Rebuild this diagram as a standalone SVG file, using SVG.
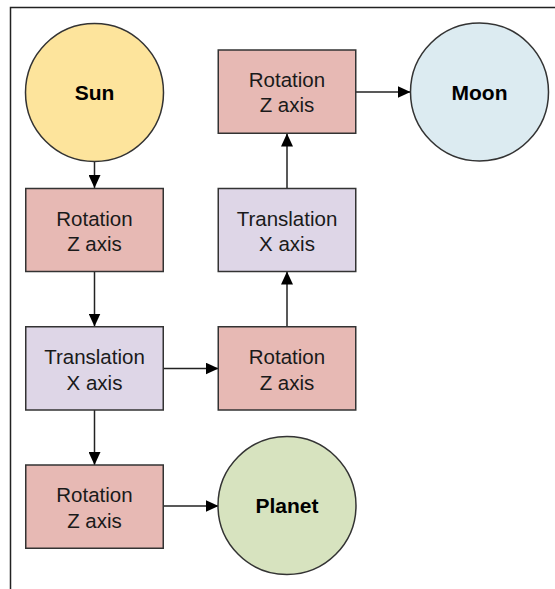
<svg xmlns="http://www.w3.org/2000/svg" width="555" height="589" viewBox="0 0 555 589">
<style>
.box{stroke:#333;stroke-width:1.5}
.rot{fill:#E7B9B4}
.tra{fill:#DED6E7}
.lbl{font-family:"Liberation Sans",Arial,sans-serif;font-size:20.5px;fill:#1a1a1a;text-anchor:middle}
.bold{font-family:"Liberation Sans",Arial,sans-serif;font-size:21px;font-weight:bold;fill:#000;text-anchor:middle}
.con{stroke:#222;stroke-width:1.5;fill:none;marker-end:url(#ah)}
</style>
<defs>
<marker id="ah" viewBox="0 0 13 12" refX="13" refY="6" markerWidth="13" markerHeight="12" markerUnits="userSpaceOnUse" orient="auto">
<path d="M0,0 L13,6 L0,12 Z" fill="#000"/>
</marker>
</defs>
<rect width="555" height="589" fill="#fff"/>
<path d="M10.5,589 V7.5 H555" fill="none" stroke="#222" stroke-width="1.5"/>
<g id="connectors">
<path class="con" d="M94.5,162 V188"/>
<path class="con" d="M94.5,271.5 V326.5"/>
<path class="con" d="M94.5,410 V465"/>
<path class="con" d="M163.5,368.5 H218.5"/>
<path class="con" d="M287,326.5 V271.5"/>
<path class="con" d="M287,188.5 V133.5"/>
<path class="con" d="M355.5,92 H410.5"/>
<path class="con" d="M163.5,506 H218.5"/>
</g>
<g id="sun">
<circle class="box" cx="94.5" cy="92.5" r="69" fill="#FDE49C"/>
<text class="bold" x="94.5" y="100">Sun</text>
</g>
<g id="moon">
<circle class="box" cx="479.5" cy="92" r="69" fill="#DCEBF1"/>
<text class="bold" x="479.5" y="99.5">Moon</text>
</g>
<g id="planet">
<circle class="box" cx="287" cy="505.5" r="69" fill="#D7E3BF"/>
<text class="bold" x="287" y="513">Planet</text>
</g>
<g id="rot1">
<rect class="box rot" x="25.75" y="188.5" width="137.5" height="83"/>
<text class="lbl" x="94.5" y="225.5">Rotation</text>
<text class="lbl" x="94.5" y="251">Z axis</text>
</g>
<g id="trans1">
<rect class="box tra" x="25.75" y="326.75" width="137.5" height="83.25"/>
<text class="lbl" x="94.5" y="364">Translation</text>
<text class="lbl" x="94.5" y="389.5">X axis</text>
</g>
<g id="rot2">
<rect class="box rot" x="25.75" y="465" width="137.5" height="83.25"/>
<text class="lbl" x="94.5" y="502">Rotation</text>
<text class="lbl" x="94.5" y="527.5">Z axis</text>
</g>
<g id="rot3">
<rect class="box rot" x="218.25" y="326.75" width="137.5" height="83.25"/>
<text class="lbl" x="287" y="364">Rotation</text>
<text class="lbl" x="287" y="389.5">Z axis</text>
</g>
<g id="trans2">
<rect class="box tra" x="218.25" y="188.5" width="137.5" height="83"/>
<text class="lbl" x="287" y="225.5">Translation</text>
<text class="lbl" x="287" y="251">X axis</text>
</g>
<g id="rot4">
<rect class="box rot" x="218.25" y="50" width="137.5" height="83.25"/>
<text class="lbl" x="287" y="86.5">Rotation</text>
<text class="lbl" x="287" y="112">Z axis</text>
</g>
</svg>
